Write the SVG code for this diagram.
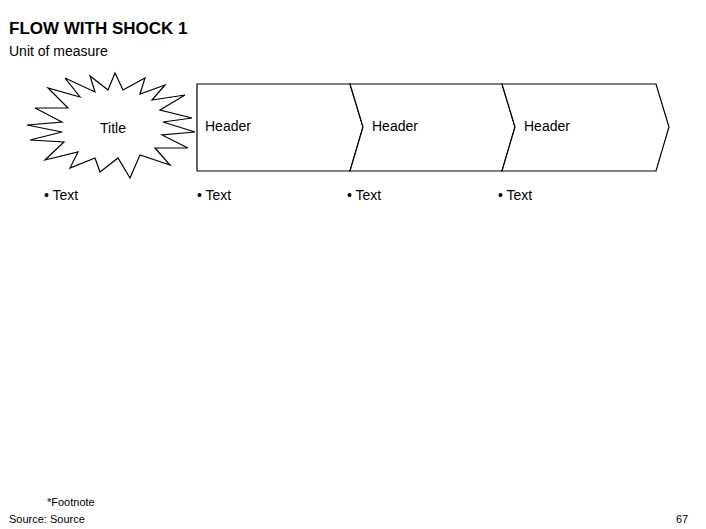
<svg xmlns="http://www.w3.org/2000/svg" width="706" height="529" viewBox="0 0 706 529">
<style>
text{font-family:"Liberation Sans",Arial,sans-serif;fill:#000}
.h{font-size:14px}
.b{font-size:14px}
.s{font-size:11px}
.shape{fill:#fff;stroke:#000;stroke-width:1.2}
</style>
<rect width="706" height="529" fill="#fff"/>
<text x="9" y="34" font-size="17" font-weight="bold">FLOW WITH SHOCK 1</text>
<text x="9" y="56" font-size="14">Unit of measure</text>
<g id="shock">
<polygon class="shape" stroke-width="1.5" points="27,125 62,122 35,108 68,108 48,88 80,97 65,78 95,92 90,76 108,90 115,73 123,90 145,78 140,94 165,85 152,100 185,95 160,110 192,118 163,122 195,132 162,135 188,148 155,148 170,165 140,155 130,178 118,158 100,172 95,158 70,168 78,152 45,160 64,142 30,140 62,132"/>
<text x="113" y="133" class="h" text-anchor="middle">Title</text>
</g>
<g id="step1">
<polygon class="shape" points="197,84 350,84 363,127 350,171 197,171"/>
<text x="205" y="131" class="h">Header</text>
</g>
<g id="step2">
<polygon class="shape" points="350,84 502,84 515,127 502,171 350,171 363,127"/>
<text x="372" y="131" class="h">Header</text>
</g>
<g id="step3">
<polygon class="shape" points="502,84 656,84 669,127 656,171 502,171 515,127"/>
<text x="524" y="131" class="h">Header</text>
</g>
<g id="bullets">
<text x="44" y="200" class="b">• Text</text>
<text x="197" y="200" class="b">• Text</text>
<text x="347" y="200" class="b">• Text</text>
<text x="498" y="200" class="b">• Text</text>
</g>
<g id="connectors"></g>
<text x="47" y="506" class="s">*Footnote</text>
<text x="9" y="523" class="s">Source: Source</text>
<text x="676" y="523" class="s">67</text>
</svg>
